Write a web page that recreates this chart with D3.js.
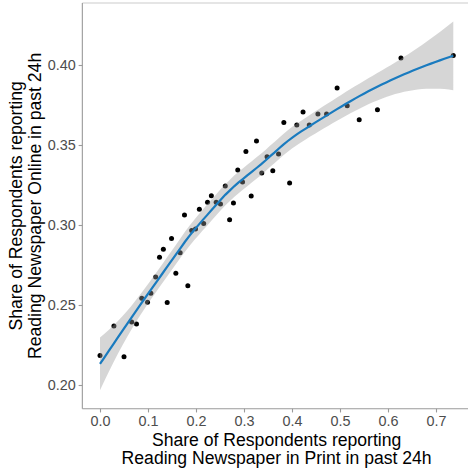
<!DOCTYPE html>
<html>
<head>
<meta charset="utf-8">
<script src="https://cdn.jsdelivr.net/npm/d3@7/dist/d3.min.js"></script>
<style>
  html, body { margin: 0; padding: 0; background: #fff; }
  svg { display: block; font-family: "Liberation Sans", Arial, Helvetica, sans-serif; }
</style>
</head>
<body>
<svg id="chart" width="468" height="469"></svg>
<script>
// Share reading print (x) vs. share reading online (y), one point per outlet
const printShare = [
  0.000, 0.029, 0.050, 0.066, 0.076, 0.087, 0.099, 0.106, 0.116, 0.124,
  0.132, 0.140, 0.149, 0.158, 0.167, 0.176, 0.183, 0.191, 0.199, 0.207,
  0.216, 0.224, 0.232, 0.242, 0.251, 0.261, 0.270, 0.278, 0.287, 0.297,
  0.304, 0.315, 0.326, 0.337, 0.348, 0.360, 0.372, 0.383, 0.395, 0.410,
  0.423, 0.436, 0.454, 0.472, 0.494, 0.515, 0.540, 0.578, 0.627, 0.736
];
const onlineShare = [
  0.2185, 0.2369, 0.2177, 0.2394, 0.2381, 0.2542, 0.2517, 0.2573, 0.2675, 0.2798,
  0.2848, 0.2515, 0.2915, 0.2698, 0.2827, 0.3063, 0.2621, 0.2965, 0.2975, 0.3098,
  0.3010, 0.3142, 0.3183, 0.3142, 0.3131, 0.3244, 0.3033, 0.3138, 0.3344, 0.3269,
  0.3460, 0.3181, 0.3525, 0.3325, 0.3427, 0.3339, 0.3444, 0.3640, 0.3263, 0.3625,
  0.3706, 0.3625, 0.3694, 0.3694, 0.3856, 0.3746, 0.3658, 0.3721, 0.4044, 0.4060
];
const xTicks = [0.0, 0.1, 0.2, 0.3, 0.4, 0.5, 0.6, 0.7];
const yTicks = [0.20, 0.25, 0.30, 0.35, 0.40];
const xTitle = ["Share of Respondents reporting", "Reading Newspaper in Print in past 24h"];
const yTitle = ["Share of Respondents reporting", "Reading Newspaper Online in past 24h"];

(function () {
// ---- local quadratic regression (loess, span 0.75) with 95% band ----
function localWeights(xs, x0, span) {
  const n = xs.length;
  const q = Math.floor(n * span);
  const d = xs.map(v => Math.abs(v - x0));
  const h = d.slice().sort((a, b) => a - b)[q - 1] * (1 + 1e-9);
  const w = d.map(di => { const u = di / h; return u < 1 ? Math.pow(1 - u * u * u, 3) : 0; });
  // 3x3 normal matrix for basis [1, dx, dx^2]
  const M = [[0,0,0],[0,0,0],[0,0,0]];
  for (let i = 0; i < n; i++) {
    const dx = xs[i] - x0, b = [1, dx, dx * dx];
    for (let r = 0; r < 3; r++) for (let c = 0; c < 3; c++) M[r][c] += w[i] * b[r] * b[c];
  }
  const inv = invert3(M);
  return xs.map((v, i) => {
    const dx = v - x0;
    return w[i] * (inv[0][0] + inv[0][1] * dx + inv[0][2] * dx * dx);
  });
}
function invert3(m) {
  const [a,b,c] = m[0], [d,e,f] = m[1], [g,h,k] = m[2];
  const A = e*k - f*h, B = -(d*k - f*g), C = d*h - e*g;
  const det = a*A + b*B + c*C;
  return [
    [A/det, -(b*k - c*h)/det, (b*f - c*e)/det],
    [B/det, (a*k - c*g)/det, -(a*f - c*d)/det],
    [C/det, -(a*h - b*g)/det, (a*e - b*d)/det]
  ];
}
function tQuantile975(df) {
  const z = 1.959963985;
  const z3 = z*z*z, z5 = z3*z*z, z7 = z5*z*z;
  return z + (z3 + z) / (4*df) + (5*z5 + 16*z3 + 3*z) / (96*df*df)
           + (3*z7 + 19*z5 + 17*z3 - 15*z) / (384*df*df*df);
}
function loessFit(xs, ys, span, nEval) {
  const n = xs.length;
  const L = xs.map(x0 => localWeights(xs, x0, span));
  // residual operator I - L
  const A = L.map((row, i) => row.map((v, j) => (i === j ? 1 : 0) - v));
  let rss = 0;
  for (let i = 0; i < n; i++) {
    const fit = d3.sum(L[i], (v, j) => v * ys[j]);
    rss += (ys[i] - fit) ** 2;
  }
  let delta1 = 0;
  for (const row of A) for (const v of row) delta1 += v * v;
  let delta2 = 0;
  for (let i = 0; i < n; i++) for (let j = 0; j < n; j++) {
    let s = 0;
    for (let k = 0; k < n; k++) s += A[k][i] * A[k][j];
    delta2 += s * s;
  }
  const sigma = Math.sqrt(rss / delta1);
  const t = tQuantile975(delta1 * delta1 / delta2);
  const [lo, hi] = d3.extent(xs);
  return d3.range(nEval).map(k => {
    const x0 = lo + (hi - lo) * k / (nEval - 1);
    const l = localWeights(xs, x0, span);
    const fit = d3.sum(l, (v, j) => v * ys[j]);
    const se = sigma * Math.sqrt(d3.sum(l, v => v * v));
    return { x: x0, y: fit, lo: fit - t * se, hi: fit + t * se };
  });
}

const smooth = loessFit(printShare, onlineShare, 0.75, 80);

// ---- layout ----
const svg = d3.select("#chart");
const x = d3.scaleLinear().domain([0, 0.7]).range([100, 436]);
const y = d3.scaleLinear().domain([0.20, 0.40]).range([385, 65]);

const xMin = d3.min(printShare), xMax = d3.max(printShare);
const xPad = (xMax - xMin) * 0.05;
const yLo = Math.min(d3.min(onlineShare), d3.min(smooth, d => d.lo));
const yHi = Math.max(d3.max(onlineShare), d3.max(smooth, d => d.hi));
const yPad = (yHi - yLo) * 0.05;
const pLeft = x(xMin - xPad), pRight = x(xMax + xPad);
const pTop = y(yHi + yPad), pBottom = y(yLo - yPad);

const axisColor = "#9a9a9a";

svg.append("clipPath").attr("id", "panel")
  .append("rect").attr("x", pLeft).attr("y", pTop)
  .attr("width", pRight - pLeft).attr("height", pBottom - pTop);

// panel frame
svg.append("line").attr("x1", pLeft).attr("x2", pRight).attr("y1", pTop).attr("y2", pTop)
  .attr("stroke", "#cccccc").attr("stroke-width", 1.1);

const plot = svg.append("g").attr("clip-path", "url(#panel)");

plot.selectAll("circle").data(printShare).join("circle")
  .attr("cx", (d) => x(d))
  .attr("cy", (d, i) => y(onlineShare[i]))
  .attr("r", 2.5)
  .attr("fill", "#000");

plot.append("path").datum(smooth)
  .attr("d", d3.area().x(d => x(d.x)).y0(d => y(d.lo)).y1(d => y(d.hi)))
  .attr("fill", "#999999").attr("fill-opacity", 0.4);

plot.append("path").datum(smooth)
  .attr("d", d3.line().x(d => x(d.x)).y(d => y(d.y)))
  .attr("fill", "none").attr("stroke", "#1a7bbf").attr("stroke-width", 2.2);

// axes
const xAxis = svg.append("g").attr("transform", `translate(0,${pBottom})`)
  .call(d3.axisBottom(x).tickValues(xTicks).tickFormat(d3.format(".1f")).tickSize(3.7).tickPadding(3));
const yAxis = svg.append("g").attr("transform", `translate(${pLeft},0)`)
  .call(d3.axisLeft(y).tickValues(yTicks).tickFormat(d3.format(".2f")).tickSize(3.7).tickPadding(3));
for (const g of [xAxis, yAxis]) {
  g.select(".domain").remove();
  g.selectAll(".tick line").attr("stroke", axisColor).attr("stroke-width", 1.1);
  g.selectAll(".tick text").attr("fill", "#4d4d4d").attr("font-size", 14.4)
    .attr("font-family", "'Liberation Sans', Arial, sans-serif");
}
svg.append("line").attr("x1", pLeft).attr("x2", pLeft).attr("y1", pTop).attr("y2", pBottom)
  .attr("stroke", axisColor).attr("stroke-width", 1.1);
svg.append("line").attr("x1", pLeft).attr("x2", pRight).attr("y1", pBottom).attr("y2", pBottom)
  .attr("stroke", axisColor).attr("stroke-width", 1.1);

// titles
const xMid = (pLeft + pRight) / 2;
svg.append("text").attr("text-anchor", "middle").attr("font-size", 17.6).attr("fill", "#000")
  .selectAll("tspan").data(xTitle).join("tspan")
  .attr("x", xMid).attr("y", (d, i) => 445.5 + i * 18.6).text(d => d);

const yMid = (pTop + pBottom) / 2;
svg.append("text").attr("text-anchor", "middle").attr("font-size", 17.6).attr("fill", "#000")
  .attr("transform", `translate(0,${yMid}) rotate(-90)`)
  .selectAll("tspan").data(yTitle).join("tspan")
  .attr("x", 0).attr("y", (d, i) => 22 + i * 18.6).text(d => d);
})();
</script>
</body>
</html>
